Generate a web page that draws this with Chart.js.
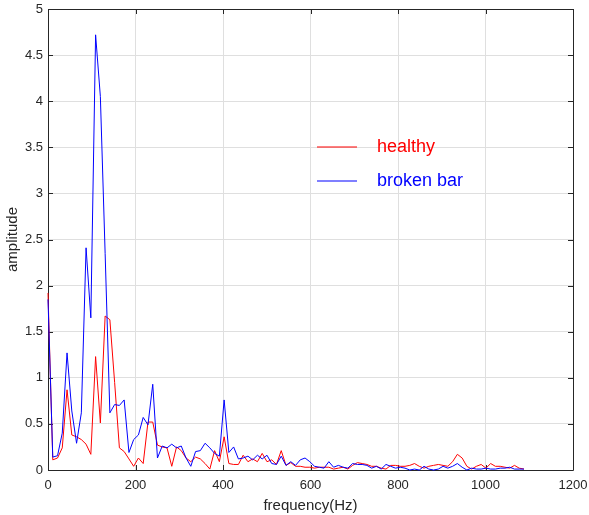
<!DOCTYPE html>
<html>
<head>
<meta charset="utf-8">
<title>Spectrum: healthy vs broken bar</title>
<script src="https://cdn.jsdelivr.net/npm/chart.js@4/dist/chart.umd.min.js"></script>
<style>
  html, body { margin: 0; padding: 0; background: #ffffff; }
  #wrap { width: 589px; height: 515px; }
</style>
</head>
<body>
<div id="wrap"><canvas id="c" width="589" height="515"></canvas></div>
<script>
// Frequency bins (Hz)
const frequency = [
  0, 10.9, 21.8, 32.6, 43.5, 54.4, 65.3, 76.2, 87.0, 97.9,
  108.8, 119.7, 130.6, 141.4, 152.3, 163.2, 174.1, 185.0, 195.8, 206.7,
  217.6, 228.5, 239.4, 250.2, 261.1, 272.0, 282.9, 293.8, 304.6, 315.5,
  326.4, 337.3, 348.2, 359.0, 369.9, 380.8, 391.7, 402.6, 413.4, 424.3,
  435.2, 446.1, 457.0, 467.8, 478.7, 489.6, 500.5, 511.4, 522.2, 533.1,
  544.0, 554.9, 565.8, 576.6, 587.5, 598.4, 609.3, 620.2, 631.0, 641.9,
  652.8, 663.7, 674.6, 685.4, 696.3, 707.2, 718.1, 729.0, 739.8, 750.7,
  761.6, 772.5, 783.4, 794.2, 805.1, 816.0, 826.9, 837.8, 848.6, 859.5,
  870.4, 881.3, 892.2, 903.0, 913.9, 924.8, 935.7, 946.6, 957.4, 968.3,
  979.2, 990.1, 1001.0, 1011.8, 1022.7, 1033.6, 1044.5, 1055.4, 1066.2, 1077.1,
  1088.0
];

// Amplitude spectrum of the healthy motor
const healthy = [
  1.92, 0.11, 0.13, 0.24, 0.87, 0.38, 0.36, 0.33, 0.28, 0.17,
  1.23, 0.51, 1.67, 1.63, 0.95, 0.24, 0.20, 0.12, 0.04, 0.13,
  0.07, 0.52, 0.52, 0.27, 0.25, 0.24, 0.04, 0.25, 0.21, 0.13,
  0.09, 0.14, 0.12, 0.07, 0.01, 0.21, 0.09, 0.36, 0.07, 0.06,
  0.06, 0.16, 0.09, 0.12, 0.09, 0.18, 0.09, 0.11, 0.06, 0.21,
  0.05, 0.08, 0.04, 0.04, 0.03, 0.03, 0.02, 0.03, 0.03, 0.03,
  0.01, 0.02, 0.03, 0.01, 0.05, 0.08, 0.07, 0.06, 0.04, 0.04,
  0.02, 0.01, 0.05, 0.05, 0.04, 0.04, 0.05, 0.07, 0.04, 0.02,
  0.04, 0.05, 0.06, 0.05, 0.04, 0.09, 0.17, 0.13, 0.04, 0.01,
  0.04, 0.06, 0.02, 0.07, 0.04, 0.04, 0.03, 0.02, 0.05, 0.02,
  0.01
];

// Amplitude spectrum of the motor with a broken rotor bar
const brokenBar = [
  1.85, 0.14, 0.155, 0.40, 1.27, 0.64, 0.29, 0.62, 2.41, 1.65,
  4.72, 4.05, 2.35, 0.62, 0.71, 0.70, 0.76, 0.19, 0.33, 0.38,
  0.57, 0.49, 0.93, 0.13, 0.26, 0.24, 0.28, 0.24, 0.26, 0.13,
  0.04, 0.20, 0.21, 0.29, 0.24, 0.18, 0.15, 0.76, 0.19, 0.25,
  0.12, 0.13, 0.15, 0.11, 0.16, 0.12, 0.16, 0.07, 0.06, 0.15,
  0.05, 0.09, 0.05, 0.11, 0.13, 0.09, 0.04, 0.03, 0.02, 0.09,
  0.03, 0.05, 0.03, 0.02, 0.07, 0.06, 0.06, 0.05, 0.02, 0.04,
  0.01, 0.06, 0.04, 0.02, 0.03, 0.02, 0.00, 0.01, 0.00, 0.04,
  0.01, 0.00, 0.01, 0.04, 0.02, 0.04, 0.07, 0.03, 0.00, 0.02,
  0.01, 0.01, 0.02, 0.01, 0.01, 0.02, 0.02, 0.03, 0.01, 0.01,
  0.01
];

// Axis tick values and their labels
const xTicks = [0, 200, 400, 600, 800, 1000, 1200];
const xTickLabels = ['0', '200', '400', '600', '800', '1000', '1200'];
const yTicks = [0, 0.5, 1, 1.5, 2, 2.5, 3, 3.5, 4, 4.5, 5];
const yTickLabels = ['0', '0.5', '1', '1.5', '2', '2.5', '3', '3.5', '4', '4.5', '5'];

const seriesNames = ['healthy', 'broken bar'];
const seriesColors = ['#ff0000', '#0000ff'];

const FONT = '"Liberation Sans", Arial, Helvetica, sans-serif';
const AXIS_COLOR = '#262626';
const GRID_COLOR = '#dfdfdf';

function pairs(xs, ys) {
  return ys.map((v, i) => ({ x: xs[i], y: v }));
}

// Box around the plot area with inward-pointing ticks on all four sides
const framePlugin = {
  id: 'frame',
  beforeDatasetsDraw(chart) {
    const { ctx, chartArea: a, scales } = chart;
    const len = 5;
    ctx.save();
    ctx.strokeStyle = AXIS_COLOR;
    ctx.lineWidth = 1;
    ctx.beginPath();
    ctx.rect(Math.round(a.left) + 0.5, Math.round(a.top) + 0.5,
             Math.round(a.right - a.left), Math.round(a.bottom - a.top));
    ctx.stroke();
    ctx.beginPath();
    xTicks.forEach(v => {
      const px = Math.round(scales.x.getPixelForValue(v)) + 0.5;
      ctx.moveTo(px, a.bottom); ctx.lineTo(px, a.bottom - len);
      ctx.moveTo(px, a.top); ctx.lineTo(px, a.top + len);
    });
    yTicks.forEach(v => {
      const py = Math.round(scales.y.getPixelForValue(v)) + 0.5;
      ctx.moveTo(a.left, py); ctx.lineTo(a.left + len, py);
      ctx.moveTo(a.right, py); ctx.lineTo(a.right - len, py);
    });
    ctx.stroke();
    ctx.restore();
  }
};

// Legend drawn inside the plot area, text coloured like its line
const insideLegend = {
  id: 'insideLegend',
  afterDraw(chart) {
    const { ctx } = chart;
    const rows = [
      { name: seriesNames[0], color: seriesColors[0], y: 147 },
      { name: seriesNames[1], color: seriesColors[1], y: 181 }
    ];
    ctx.save();
    ctx.font = '18px ' + FONT;
    ctx.textBaseline = 'middle';
    ctx.textAlign = 'left';
    rows.forEach(r => {
      ctx.strokeStyle = r.color;
      ctx.lineWidth = 1.2;
      ctx.beginPath();
      ctx.moveTo(317, r.y);
      ctx.lineTo(357, r.y);
      ctx.stroke();
      ctx.fillStyle = r.color;
      ctx.fillText(r.name, 377, r.y);
    });
    ctx.restore();
  }
};

new Chart(document.getElementById('c'), {
  type: 'line',
  data: {
    datasets: [
      {
        label: seriesNames[0],
        data: pairs(frequency, healthy),
        borderColor: seriesColors[0],
        borderWidth: 1,
        pointRadius: 0,
        tension: 0,
        fill: false,
        clip: 2,
        order: 1
      },
      {
        label: seriesNames[1],
        data: pairs(frequency, brokenBar),
        borderColor: seriesColors[1],
        borderWidth: 1,
        pointRadius: 0,
        tension: 0,
        fill: false,
        clip: 2,
        order: 0
      }
    ]
  },
  options: {
    responsive: false,
    animation: false,
    devicePixelRatio: 1,
    layout: { padding: { top: 9, right: 16, left: 0, bottom: 0 } },
    plugins: {
      legend: { display: false },
      tooltip: { enabled: false }
    },
    scales: {
      x: {
        type: 'linear',
        min: 0,
        max: 1200,
        afterBuildTicks(scale) { scale.ticks = xTicks.map(v => ({ value: v })); },
        afterFit(scale) {
          scale.height = 45;
          scale.paddingLeft = 0; scale.paddingRight = 0;
        },
        grid: { color: GRID_COLOR, lineWidth: 1, drawTicks: false },
        border: { display: false },
        ticks: {
          color: AXIS_COLOR,
          font: { family: FONT, size: 13 },
          padding: 8,
          maxRotation: 0,
          callback: (v, i) => xTickLabels[i]
        },
        title: {
          display: true,
          text: 'frequency(Hz)',
          color: AXIS_COLOR,
          font: { family: FONT, size: 15 },
          padding: { top: 0, bottom: 0 }
        }
      },
      y: {
        type: 'linear',
        min: 0,
        max: 5,
        afterBuildTicks(scale) { scale.ticks = yTicks.map(v => ({ value: v })); },
        afterFit(scale) {
          scale.width = 48;
          scale.paddingTop = 0; scale.paddingBottom = 0;
        },
        grid: { color: GRID_COLOR, lineWidth: 1, drawTicks: false },
        border: { display: false },
        ticks: {
          color: AXIS_COLOR,
          font: { family: FONT, size: 13 },
          padding: 5,
          callback: (v, i) => yTickLabels[i]
        },
        title: {
          display: true,
          text: 'amplitude',
          color: AXIS_COLOR,
          font: { family: FONT, size: 15 },
          padding: { top: 4, bottom: 0 }
        }
      }
    }
  },
  plugins: [framePlugin, insideLegend]
});
</script>
</body>
</html>
